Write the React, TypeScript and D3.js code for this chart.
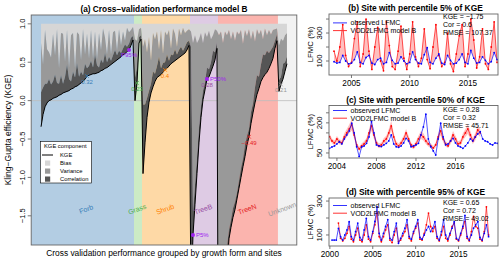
import React from "react";
import * as d3 from "d3";

const FONT = "'Liberation Sans', Arial, Helvetica, sans-serif";

// ---------- panel (a): sites sorted by KGE inside each growth form ----------
const groupNames = ["Forb", "Grass", "Shrub", "TreeB", "TreeN", "Unknown"];
const groupText = ["#377EB8", "#4DAF4A", "#FF7F00", "#984EA3", "#E41A1C", "#999999"];
const groupFill = ["#B3CDE3", "#CCEBC5", "#FED9A6", "#DECBE4", "#FBB4AE", "#F2F2F2"];

const forbKGE = [-0.34, -0.18, -0.08, -0.03, 0.0, 0.01, 0.03, 0.04, 0.05, 0.07,
  0.08, 0.1, 0.11, 0.12, 0.13, 0.15, 0.16, 0.18, 0.19, 0.21,
  0.23, 0.25, 0.28, 0.32, 0.33, 0.34, 0.35, 0.35, 0.36, 0.37,
  0.39, 0.4, 0.42, 0.43, 0.45, 0.47, 0.49, 0.51, 0.53, 0.55,
  0.57, 0.6, 0.61, 0.64, 0.66, 0.72, 0.79];
const forbCor = [0.45, 0.35, 0.3, 0.25, 0.28, 0.2, 0.22, 0.3, 0.18, 0.15,
  0.25, 0.12, 0.2, 0.35, 0.15, 0.1, 0.22, 0.12, 0.3, 0.1,
  0.15, 0.08, 0.2, 0.1, 0.12, 0.18, 0.08, 0.25, 0.1, 0.06,
  0.15, 0.09, 0.2, 0.07, 0.12, 0.05, 0.1, 0.15, 0.06, 0.1,
  0.05, 0.08, 0.12, 0.06, 0.08, 0.1, 0.05];
const forbVar = [0.64, 0.3, 0.7, 0.45, 0.35, 0.35, 0.62, 0.25, 0.7, 0.2,
  0.55, 0.65, 0.2, 0.45, 0.15, 0.6, 0.5, 0.12, 0.4, 0.55,
  0.15, 0.6, 0.12, 0.45, 0.1, 0.4, 0.12, 0.3, 0.08, 0.45,
  0.12, 0.45, 0.2, 0.1, 0.35, 0.08, 0.3, 0.25, 0.06, 0.28,
  0.1, 0.22, 0.05, 0.25, 0.15, 0.1, 0.12];

const grassKGE = [0.0, 0.23, 0.75, 0.8];
const grassCor = [0.3, 0.2, 0.08, 0.05];
const grassVar = [0.5, 0.35, 0.1, 0.1];

const shrubKGE = [-0.95, -0.55, -0.22, -0.02, 0.1, 0.18, 0.25, 0.3, 0.32, 0.34,
  0.37, 0.4, 0.42, 0.45, 0.48, 0.5, 0.52, 0.54, 0.56, 0.58, 0.6, 0.62, 0.66, 0.72];
const shrubCor = [0.9, 0.5, 0.25, 0.15, 0.12, 0.2, 0.1, 0.15, 0.25, 0.08,
  0.12, 0.1, 0.18, 0.07, 0.12, 0.09, 0.15, 0.06, 0.1, 0.12, 0.05, 0.08, 0.1, 0.06];
const shrubVar = [0.75, 0.85, 0.6, 0.7, 0.3, 0.5, 0.45, 0.45, 0.1, 0.5,
  0.12, 0.4, 0.25, 0.4, 0.08, 0.35, 0.2, 0.1, 0.28, 0.15, 0.3, 0.18, 0.15, 0.15];

const treeBKGE = [-2.6, -1.75, -1.35, -0.95, -0.55, -0.22, 0.01, 0.14, 0.28, 0.31, 0.38, 0.45, 0.53, 0.68];
const treeBCor = [3.3, 0.3, 0.25, 0.2, 0.2, 0.15, 0.12, 0.1, 0.15, 0.1, 0.12, 0.2, 0.1, 0.08];
const treeBVar = [0.2, 2.2, 1.95, 1.5, 1.15, 0.95, 0.62, 0.65, 0.4, 0.5, 0.3, 0.2, 0.3, 0.15];

const treeNKGE = [-6, -4.5, -3.5, -2.8, -2.2, -1.8, -1.65, -1.52, -1.42, -1.28,
  -1.14, -1.0, -0.86, -0.73, -0.58, -0.47, -0.3, -0.16, -0.03, 0.08,
  0.16, 0.25, 0.3, 0.34, 0.37, 0.42, 0.48, 0.55, 0.68, 0.78];
const treeNCor = [1.0, 0.8, 0.7, 0.5, 0.3, 0.12, 0.1, 0.12, 0.1, 0.08,
  0.1, 0.12, 0.1, 0.15, 0.12, 0.1, 0.15, 0.12, 0.2, 0.25,
  0.15, 0.22, 0.3, 0.25, 0.28, 0.2, 0.18, 0.15, 0.1, 0.08];
const treeNVar = [5.85, 4.6, 3.55, 3.2, 2.75, 2.6, 2.35, 2.3, 2.1, 2.1,
  1.9, 1.8, 1.5, 1.5, 1.3, 1.3, 0.95, 0.95, 0.6, 0.6,
  0.55, 0.45, 0.2, 0.35, 0.2, 0.3, 0.2, 0.22, 0.15, 0.08];

const unknownKGE = [0.12, 0.21, 0.28, 0.38, 0.48];
const unknownCor = [0.15, 0.1, 0.2, 0.12, 0.1];
const unknownVar = [0.45, 0.5, 0.3, 0.35, 0.3];

const medianKGE = [0.32, 0.23, 0.4, 0.28, -0.49, 0.21];
const medianText = ["0.32", "0.23", "0.4", "0.28", "-0.49", "0.21"];

const pctLabels = ["P5%", "P50%", "P95%"];
const pctKGE = [-1.75, 0.28, 0.66];
const pctGroup = [3, 3, 0];

const kgeByGroup = [forbKGE, grassKGE, shrubKGE, treeBKGE, treeNKGE, unknownKGE];
const corByGroup = [forbCor, grassCor, shrubCor, treeBCor, treeNCor, unknownCor];
const varByGroup = [forbVar, grassVar, shrubVar, treeBVar, treeNVar, unknownVar];

type Site = { i: number; g: number; kge: number; cor: number; vr: number };
const sites: Site[] = [];
kgeByGroup.forEach((arr, g) =>
  arr.forEach((k, j) => sites.push({ i: sites.length, g, kge: k, cor: corByGroup[g][j], vr: varByGroup[g][j] }))
);

// ---------- panels (b)-(d): LFMC time series ----------
const bDates = [2003.5, 2003.75,
  2004, 2004.25, 2004.5, 2004.75, 2005, 2005.25, 2005.5, 2005.75, 2006, 2006.25, 2006.5, 2006.75,
  2007, 2007.25, 2007.5, 2007.75, 2008, 2008.25, 2008.5, 2008.75, 2009, 2009.25, 2009.5, 2009.75,
  2010, 2010.25, 2010.5, 2010.75, 2011, 2011.25, 2011.5, 2011.75, 2012, 2012.25, 2012.5, 2012.75,
  2013, 2013.25, 2013.5, 2013.75, 2014, 2014.25, 2014.5, 2014.75, 2015, 2015.25, 2015.5, 2015.75,
  2016, 2016.25, 2016.5, 2016.75, 2017, 2017.25, 2017.5];
const bObs = [95, 85,
  90, 140, 100, 80, 85, 110, 165, 90, 80, 125, 140, 85,
  75, 110, 120, 80, 90, 160, 105, 80, 85, 130, 100, 80,
  90, 165, 110, 85, 80, 145, 195, 90, 80, 120, 150, 85,
  75, 140, 105, 80, 85, 110, 150, 90, 80, 175, 120, 85,
  90, 130, 105, 80, 95, 160, 110];
const bMod = [170, 100,
  200, 360, 140, 60, 90, 260, 380, 60, 150, 400, 170, 40,
  200, 340, 100, 30, 380, 210, 60, 40, 170, 350, 120, 40,
  150, 380, 130, 60, 120, 330, 110, 45, 200, 360, 140, 60,
  90, 300, 80, 25, 150, 280, 360, 60, 150, 400, 250, 50,
  130, 330, 80, 40, 200, 380, 90];

const cDates = [2003.25, 2003.5, 2003.75,
  2004, 2004.25, 2004.5, 2004.75, 2005, 2005.25, 2005.5, 2005.75, 2006, 2006.25, 2006.5, 2006.75,
  2007, 2007.25, 2007.5, 2007.75, 2008, 2008.25, 2008.5, 2008.75, 2009, 2009.25, 2009.5, 2009.75,
  2010, 2010.25, 2010.5, 2010.75, 2011, 2011.25, 2011.5, 2011.75, 2012, 2012.25, 2012.5, 2012.75,
  2013, 2013.25, 2013.5, 2013.75, 2014, 2014.25, 2014.5, 2014.75, 2015, 2015.25, 2015.5, 2015.75,
  2016, 2016.25, 2016.5, 2016.75, 2017, 2017.25, 2017.5, 2017.75, 2018, 2018.25, 2018.5, 2018.75,
  2019, 2019.25, 2019.5, 2019.75, 2020, 2020.25];
const cObs = [73, 80, 85,
  95, 106, 95, 120, 140, 160, 198, 150, 81, 32, 80, 85,
  98, 130, 206, 150, 90, 85, 82, 90, 98, 110, 140, 95,
  81, 78, 85, 100, 123, 110, 81, 85, 90, 98, 140, 180,
  243, 120, 81, 60, 40, 120, 198, 130, 90, 95, 110, 123,
  100, 85, 80, 73, 85, 100, 120, 110, 130, 145, 156, 120,
  110, 106, 95, 90, 100, 98];
const cMod = [131, 110, 100,
  120, 106, 100, 130, 150, 170, 190, 140, 90, 70, 85, 95,
  110, 150, 185, 140, 100, 85, 90, 110, 120, 150, 185, 130,
  95, 85, 100, 120, 150, 120, 90, 80, 95, 120, 140, 130,
  110, 95, 85, 75, 90, 130, 160, 120, 95, 85, 110, 140,
  120, 95, 100, 130, 150, 170, 140, 110, 130, 165, 150, null,
  null, null, null, null, null, null];
const cSpread = [15, 12, 12,
  15, 12, 12, 18, 20, 22, 28, 20, 12, 10, 12, 14,
  15, 20, 26, 20, 14, 12, 12, 15, 16, 20, 26, 18,
  13, 12, 14, 16, 20, 16, 12, 11, 13, 16, 20, 18,
  15, 13, 12, 10, 12, 18, 22, 16, 13, 12, 15, 20,
  16, 13, 14, 18, 20, 24, 20, 15, 18, 22, 20, null,
  null, null, null, null, null, null];

const dDates = [2000.25, 2000.5, 2000.75,
  2001, 2001.25, 2001.5, 2001.75, 2002, 2002.25, 2002.5, 2002.75, 2003, 2003.25, 2003.5, 2003.75,
  2004, 2004.25, 2004.5, 2004.75, 2005, 2005.25, 2005.5, 2005.75, 2006, 2006.25, 2006.5, 2006.75,
  2007, 2007.25, 2007.5, 2007.75, 2008, 2008.25, 2008.5, 2008.75, 2009, 2009.25, 2009.5, 2009.75,
  2010, 2010.25, 2010.5, 2010.75, 2011, 2011.25, 2011.5, 2011.75, 2012, 2012.25, 2012.5, 2012.75,
  2013, 2013.25, 2013.5, 2013.75, 2014, 2014.25, 2014.5, 2014.75, 2015, 2015.25, 2015.5, 2015.75,
  2016, 2016.25, 2016.5, 2016.75, 2017, 2017.25, 2017.5, 2017.75, 2018, 2018.25, 2018.5];
const dObs = [70, 70, 70,
  139, 90, 70, 100, 130, 178, 90, 70, 120, 170, 85, 70,
  130, 198, 90, 70, 120, 180, 266, 110, 70, 110, 150, 190,
  80, 70, 120, 170, 51, 80, 110, 140, 190, 90, 75, 120,
  150, 190, 85, 75, 100, 130, 150, 120, 140, 178, 90, 70,
  120, 190, 100, 75, 110, 140, 178, 80, 70, 110, 150, 215,
  90, 70, 100, 140, 160, 178, 85, 70, 110, 160, 90];
const dMod = [null, null, null,
  170, 80, 65, 80, 110, 150, 75, 60, 100, 140, 70, 60,
  100, 160, 75, 60, 110, 160, 230, 90, 60, 90, 130, 160,
  70, 55, 100, 140, 60, 70, 95, 120, 160, 80, 65, 110,
  140, 170, 75, 70, 110, 160, 229, 150, 120, 150, 80, 65,
  100, 150, 80, 65, 100, 150, 170, 75, 65, 100, 140, 180,
  80, 65, 120, 210, 150, 140, 75, 65, 120, 266, 100];

const A = { l: 31.2, r: 296.8, t: 15, b: 245 };
const minus = (s: string) => s.replace("-", "\u2212");

function PanelA() {
  const n = sites.length;
  const x = d3.scaleLinear().domain([-0.04 * (n - 1), 1.04 * (n - 1)]).range([A.l, A.r]);
  const y = d3.scaleLinear().domain([-1.88, 1.115]).range([A.b, A.t]);

  const groupSites = groupNames.map((_, g) => sites.filter((s) => s.g === g));

  const dark = d3.area<Site>().x((d) => x(d.i)).y0((d) => y(d.kge)).y1((d) => y(d.kge + d.cor));
  const mid = d3.area<Site>().x((d) => x(d.i)).y0((d) => y(d.kge + d.cor)).y1((d) => y(d.kge + d.cor + d.vr));
  const light = d3.area<Site>().x((d) => x(d.i)).y0((d) => y(d.kge + d.cor + d.vr)).y1(() => y(1));
  const kgeLine = d3.line<Site>().x((d) => x(d.i)).y((d) => y(d.kge));

  const nearest = (g: number, v: number) =>
    groupSites[g].reduce((a, b) => (Math.abs(b.kge - v) < Math.abs(a.kge - v) ? b : a));

  const yTicks = [1, 0.5, 0, -0.5, -1, -1.5];
  const fmt = d3.format(".1f");

  return (
    <g>
      <defs>
        <clipPath id="clipA">
          <rect x={A.l} y={A.t} width={A.r - A.l} height={A.b - A.t} />
        </clipPath>
      </defs>
      {groupSites.map((gs, g) => {
        const x0 = g === 0 ? A.l : x(gs[0].i - 0.5);
        const x1 = g === groupSites.length - 1 ? A.r : x(gs[gs.length - 1].i + 0.5);
        return <rect key={g} x={x0} y={A.t} width={x1 - x0} height={A.b - A.t} fill={groupFill[g]} />;
      })}
      <line x1={A.l} x2={A.r} y1={y(0)} y2={y(0)} stroke="#bdbdbd" strokeWidth={0.8} />
      <g clipPath="url(#clipA)">
        <path d={light(sites) || ""} fill="#d6d6d6" />
        <path d={mid(sites) || ""} fill="#999999" />
        <path d={dark(sites) || ""} fill="#555555" />
        <path d={kgeLine(sites) || ""} fill="none" stroke="#000" strokeWidth={1} />
      </g>
      {medianKGE.map((m, g) => {
        const s = nearest(g, m);
        const cx = x(s.i);
        const cy = y(s.kge);
        return (
          <g key={g} stroke={groupText[g]} fill={groupText[g]}>
            <line x1={cx - 1.8} x2={cx + 1.8} y1={cy - 1.8} y2={cy + 1.8} strokeWidth={0.8} />
            <line x1={cx - 1.8} x2={cx + 1.8} y1={cy + 1.8} y2={cy - 1.8} strokeWidth={0.8} />
            <text x={cx} y={cy + 8} fontSize={6} textAnchor="middle" stroke="none">
              {minus(medianText[g])}
            </text>
          </g>
        );
      })}
      {pctLabels.map((lab, k) => {
        const s = nearest(pctGroup[k], pctKGE[k]);
        const cx = x(s.i);
        const cy = y(s.kge);
        const right = k < 2;
        return (
          <g key={lab} fill="#A020F0">
            <circle cx={cx} cy={cy} r={2} />
            <text x={right ? cx + 3 : cx} y={right ? cy + 1.8 : cy + 7.5} fontSize={6}
              textAnchor={right ? "start" : "middle"}>{lab}</text>
          </g>
        );
      })}
      {groupSites.map((gs, g) => {
        const cx = x(d3.mean(gs, (s) => s.i) as number);
        return (
          <text key={g} transform={`translate(${cx},${211.5}) rotate(-20)`} fontSize={7}
            textAnchor="middle" fill={groupText[g]}>{groupNames[g]}</text>
        );
      })}
      {/* legend */}
      <g>
        <rect x={40.5} y={141.5} width={51} height={41.5} fill="#fff" stroke="#000" strokeWidth={0.6} />
        <text x={44} y={148.3} fontSize={5.8}>KGE component</text>
        <line x1={42} x2={53} y1={155} y2={155} stroke="#000" strokeWidth={1} />
        <text x={60} y={157} fontSize={5.8}>KGE</text>
        {[["Bias", "#d6d6d6"], ["Variance", "#999999"], ["Correlation", "#555555"]].map(([lab, col], k) => (
          <g key={lab}>
            <rect x={45} y={160.5 + 8 * k} width={5.2} height={5.2} fill={col} />
            <text x={60} y={165.3 + 8 * k} fontSize={5.8}>{lab}</text>
          </g>
        ))}
      </g>
      {/* axes */}
      <rect x={A.l} y={A.t} width={A.r - A.l} height={A.b - A.t} fill="none" stroke="#666" strokeWidth={0.9} />
      {yTicks.map((t) => (
        <g key={t}>
          <line x1={A.l - 3.5} x2={A.l} y1={y(t)} y2={y(t)} stroke="#666" strokeWidth={0.9} />
          <text transform={`translate(${25},${y(t)}) rotate(-90)`} fontSize={7.5} textAnchor="middle">
            {minus(fmt(t))}
          </text>
        </g>
      ))}
      <text transform={`translate(${11},${(A.t + A.b) / 2}) rotate(-90)`} fontSize={8.5} textAnchor="middle">
        Kling{"\u2212"}Gupta efficiency (KGE)
      </text>
      <text x={(A.l + A.r) / 2} y={11.5} fontSize={8.3} fontWeight="bold" textAnchor="middle">
        (a) Cross{"\u2212"}validation performance model B
      </text>
      <text x={(A.l + A.r) / 2} y={256} fontSize={8.4} textAnchor="middle">
        Cross validation performance grouped by growth form and sites
      </text>
    </g>
  );
}

type TSProps = {
  id: string;
  box: { l: number; r: number; t: number; b: number };
  title: string;
  titleY: number;
  dates: number[];
  obs: number[];
  mod: (number | null)[];
  spread?: (number | null)[];
  between?: boolean;
  xDomain: [number, number];
  yDomain: [number, number];
  xTicks: number[];
  yTicks: number[];
  yLabels: number[];
  stats: string[];
  legendY: number;
  statsY: number;
};

function TSPanel(p: TSProps) {
  const { box } = p;
  const x = d3.scaleLinear().domain(p.xDomain).range([box.l, box.r]);
  const y = d3.scaleLinear().domain(p.yDomain).range([box.b, box.t]);
  const idx = d3.range(p.dates.length);
  const hasMod = (i: number) => p.mod[i] != null;

  const obsLine = d3.line<number>().x((i) => x(p.dates[i])).y((i) => y(p.obs[i]));
  const modLine = d3.line<number>().defined(hasMod).x((i) => x(p.dates[i])).y((i) => y(p.mod[i] as number));

  let ribbon = "";
  if (p.between) {
    ribbon = d3.area<number>().defined(hasMod).x((i) => x(p.dates[i]))
      .y0((i) => y(p.obs[i])).y1((i) => y(p.mod[i] as number))(idx) || "";
  } else if (p.spread) {
    const sp = p.spread;
    ribbon = d3.area<number>().defined((i) => hasMod(i) && sp[i] != null).x((i) => x(p.dates[i]))
      .y0((i) => y((p.mod[i] as number) - (sp[i] as number)))
      .y1((i) => y((p.mod[i] as number) + (sp[i] as number)))(idx) || "";
  }

  const midY = (box.t + box.b) / 2;
  return (
    <g>
      <defs>
        <clipPath id={p.id}>
          <rect x={box.l} y={box.t} width={box.r - box.l} height={box.b - box.t} />
        </clipPath>
      </defs>
      <g clipPath={`url(#${p.id})`}>
        {ribbon && <path d={ribbon} fill="rgba(255,0,0,0.25)" />}
        <path d={modLine(idx) || ""} fill="none" stroke="rgba(255,0,0,0.75)" strokeWidth={0.9} />
        {idx.filter(hasMod).map((i) => (
          <circle key={"m" + i} cx={x(p.dates[i])} cy={y(p.mod[i] as number)} r={0.9} fill="#ff0000" />
        ))}
        <path d={obsLine(idx) || ""} fill="none" stroke="rgba(0,0,255,0.75)" strokeWidth={0.9} />
        {idx.map((i) => (
          <circle key={"o" + i} cx={x(p.dates[i])} cy={y(p.obs[i])} r={0.9} fill="#0000ff" />
        ))}
      </g>
      <rect x={box.l} y={box.t} width={box.r - box.l} height={box.b - box.t} fill="none" stroke="#666" strokeWidth={0.9} />
      {p.xTicks.map((t) => (
        <g key={t}>
          <line x1={x(t)} x2={x(t)} y1={box.b} y2={box.b + 3} stroke="#666" strokeWidth={0.9} />
          <text x={x(t)} y={box.b + 11} fontSize={8.2} textAnchor="middle">{t}</text>
        </g>
      ))}
      {p.yTicks.map((t) => (
        <g key={t}>
          <line x1={box.l - 3} x2={box.l} y1={y(t)} y2={y(t)} stroke="#666" strokeWidth={0.9} />
          {p.yLabels.includes(t) && (
            <text transform={`translate(${321.5},${y(t)}) rotate(-90)`} fontSize={7.8} textAnchor="middle">{t}</text>
          )}
        </g>
      ))}
      <text transform={`translate(${312.5},${midY}) rotate(-90)`} fontSize={7.8} textAnchor="middle">LFMC (%)</text>
      <text x={(box.l + box.r) / 2 + 2} y={p.titleY} fontSize={8.4} fontWeight="bold" textAnchor="middle">{p.title}</text>
      <line x1={333} x2={347} y1={p.legendY - 2.5} y2={p.legendY - 2.5} stroke="#3333ff" strokeWidth={1} />
      <text x={350.5} y={p.legendY} fontSize={7}>observed LFMC</text>
      <line x1={333} x2={347} y1={p.legendY + 5.2} y2={p.legendY + 5.2} stroke="#ff3333" strokeWidth={1} />
      <text x={350.5} y={p.legendY + 7.7} fontSize={7}>VOD2LFMC model B</text>
      {p.stats.map((s, k) => (
        <text key={k} x={443} y={p.statsY + 8.2 * k} fontSize={7}>{s}</text>
      ))}
    </g>
  );
}

export default function App() {
  return (
    <svg width={500} height={264} style={{ position: "absolute", left: 0, top: 0, fontFamily: FONT }}>
      <rect width={500} height={264} fill="#fff" />
      <PanelA />
      <TSPanel id="clipB" box={{ l: 329, r: 498, t: 14, b: 75 }} title="(b) Site with percentile 5% of KGE" titleY={11}
        dates={bDates} obs={bObs} mod={bMod} between xDomain={[2003.07, 2017.58]} yDomain={[0, 436]}
        xTicks={[2005, 2010, 2015]} yTicks={[100, 200, 300, 400]} yLabels={[100, 300]}
        stats={["KGE = \u22121.75", "Cor = 0.6", "RMSE = 107.37"]} legendY={25.4} statsY={19} />
      <TSPanel id="clipC" box={{ l: 329, r: 498, t: 105.5, b: 158 }} title="(c) Site with percentile 50% of KGE" titleY={102.5}
        dates={cDates} obs={cObs} mod={cMod} spread={cSpread} xDomain={[2003.2, 2020.3]} yDomain={[25, 286.5]}
        xTicks={[2004, 2008, 2012, 2016]} yTicks={[50, 100, 150, 200, 250]} yLabels={[50, 200]}
        stats={["KGE = 0.28", "Cor = 0.32", "RMSE = 45.71"]} legendY={113} statsY={111.5} />
      <TSPanel id="clipD" box={{ l: 329, r: 498, t: 198, b: 246 }} title="(d) Site with percentile 95% of KGE" titleY={194.5}
        dates={dDates} obs={dObs} mod={dMod} xDomain={[1999.9, 2019.6]} yDomain={[35, 318]}
        xTicks={[2000, 2005, 2010, 2015]} yTicks={[100, 200, 300]} yLabels={[100, 300]}
        stats={["KGE = 0.65", "Cor = 0.72", "RMSE = 49.02"]} legendY={208} statsY={205} />
    </svg>
  );
}
